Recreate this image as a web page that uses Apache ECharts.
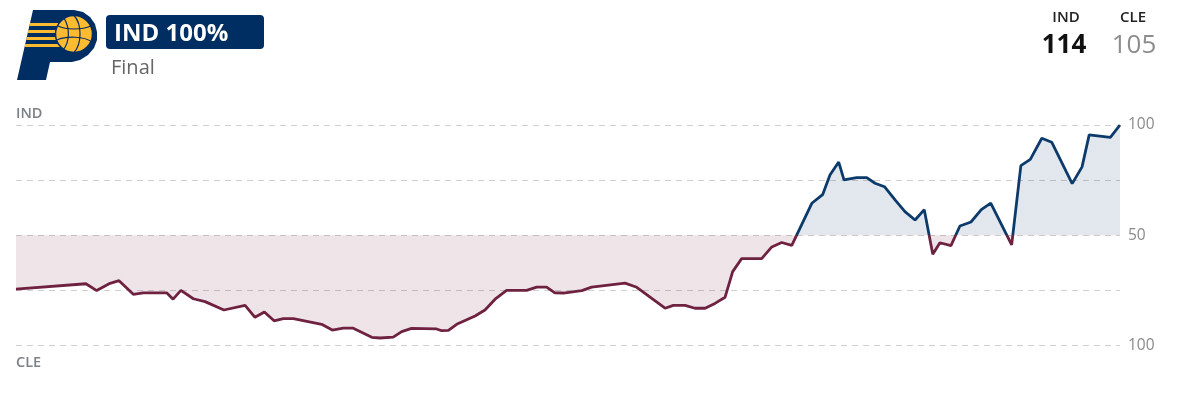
<!DOCTYPE html>
<html>
<head>
<meta charset="utf-8">
<script src="https://cdn.jsdelivr.net/npm/echarts@6/dist/echarts.min.js"></script>
<style>
  html, body { margin: 0; padding: 0; background: #fff; }
  #chart { width: 1178px; height: 401px; }
</style>
</head>
<body>
<div id="chart"></div>
<script>
// Game clock (minutes elapsed, 48-minute game)
const minutes = [0,3.04,3.51,4.09,4.48,5.10,5.53,6.55,6.83,7.17,7.71,8.22,9.04,9.96,10.39,10.80,11.22,11.62,12.06,13.29,13.75,14.23,14.64,15.47,15.83,16.40,16.77,17.20,18.29,18.51,18.80,19.16,19.96,20.39,20.83,21.33,22.20,22.64,23.07,23.43,23.80,24.60,25.03,26.48,26.99,28.22,28.58,29.09,29.52,29.96,30.39,30.83,31.16,31.55,32.42,32.86,33.29,33.73,34.60,35.07,35.39,35.77,36.00,36.55,36.99,37.35,37.76,38.22,38.65,39.09,39.49,39.86,40.17,40.65,41.04,41.52,41.97,42.38,43.29,43.69,44.10,44.60,45.03,45.92,46.35,46.66,47.58,48];
// IND win probability (%)
const indWinProb = [25.6,28.0,24.9,28.2,29.4,23.2,23.9,23.9,21.0,25.0,21.2,19.9,16.1,18.2,12.8,15.2,11.2,12.2,12.2,9.6,7.0,7.9,7.9,3.7,3.4,3.8,6.3,7.8,7.5,6.7,6.9,9.6,13.4,16.1,21.0,25.0,25.0,26.5,26.5,23.9,23.8,24.9,26.5,28.3,26.4,16.9,18.2,18.2,16.9,16.9,19.1,21.9,33.5,39.4,39.4,44.7,46.7,45.4,64.5,68.4,77.3,83.2,75.1,76.1,76.1,73.6,72.0,66.0,60.7,56.9,61.6,41.4,46.6,45.3,54.2,56.0,61.6,64.6,45.6,81.6,84.4,94.0,92.2,73.4,81.0,95.5,94.4,100];
const yTickLabels = {0: '100', 50: '50', 100: '100'};
const homeTeam = 'IND', awayTeam = 'CLE';
const homeScore = '114', awayScore = '105';
const headline = 'IND 100%';
const status = 'Final';

const NAVY = '#002d62', GOLD = '#fdbb30';
const RED = '#6f2140', BLUE = '#0b3a6b';
const FONT = '"Open Sans", sans-serif';

const seriesData = minutes.map((m, i) => [m, indWinProb[i]]);

const chart = echarts.init(document.getElementById('chart'), null, {renderer: 'canvas'});

const stripes = [23, 30, 37, 44].map(y => ({
  type: 'polygon',
  shape: { points: [[33 - (y - 10) * 16 / 70, y], [70, y], [70, y + 3], [33 - (y + 3 - 10) * 16 / 70, y + 3]] },
  style: { fill: GOLD },
  z: 101
}));

const seams = [
  { x1: 74, y1: 15.5, cpx1: 82, cpy1: 24, cpx2: 82, cpy2: 44, x2: 74, y2: 52.5 },
  { x1: 58, y1: 26, cpx1: 66, cpy1: 30, cpx2: 82, cpy2: 30, x2: 91, y2: 26 },
  { x1: 57, y1: 40, cpx1: 66, cpy1: 36, cpx2: 84, cpy2: 36, x2: 92, y2: 42 },
  { x1: 64, y1: 18, cpx1: 70, cpy1: 28, cpx2: 70, cpy2: 42, x2: 63, y2: 50 }
].map(s => ({ type: 'bezierCurve', shape: s, style: { fill: null, stroke: NAVY, lineWidth: 1.2 }, z: 103 }));

chart.setOption({
  backgroundColor: '#fff',
  animation: false,
  grid: { left: 16, right: 58, top: 125, height: 220.5 },
  xAxis: { type: 'value', min: 0, max: 48, show: false },
  yAxis: {
    type: 'value', min: 0, max: 100, interval: 25, position: 'right',
    axisLine: { show: false }, axisTick: { show: false },
    splitLine: { show: true, lineStyle: { color: '#cfcfcf', type: [6, 5], width: 1 } },
    axisLabel: {
      margin: 8, color: '#8a8a8a', fontSize: 15.5, fontFamily: FONT,
      formatter: v => yTickLabels[v] || ''
    }
  },
  visualMap: {
    type: 'piecewise', show: false, dimension: 1, seriesIndex: 0,
    pieces: [{ gte: 0, lt: 50, color: RED }, { gte: 50, lte: 100, color: BLUE }],
    outOfRange: { color: BLUE }
  },
  series: [{
    type: 'line',
    data: seriesData,
    symbol: 'none',
    lineStyle: { width: 2.8 },
    areaStyle: { origin: 50, opacity: 0.12 },
    silent: true
  }],
  graphic: [
    // logo
    { type: 'polygon', shape: { points: [[33,10],[74,10],[83,12],[90,17],[95,24],[97,32],[97,40],[94,48],[88,55],[80,60],[72,62],[50,62],[46,80],[17,80]] }, style: { fill: NAVY }, z: 100 },
    ...stripes,
    { type: 'circle', shape: { cx: 74, cy: 34, r: 18.5 }, style: { fill: GOLD, stroke: NAVY, lineWidth: 1.5 }, z: 102 },
    ...seams,
    // badge
    { type: 'rect', shape: { x: 106, y: 15, width: 158, height: 34, r: 4 }, style: { fill: NAVY }, z: 100 },
    { type: 'text', x: 114, y: 34, style: { text: headline, fill: '#fff', font: 'bold 24px ' + FONT, verticalAlign: 'middle' }, z: 101 },
    { type: 'text', x: 111, y: 68.5, style: { text: status, fill: '#666', font: '20px ' + FONT, verticalAlign: 'middle' }, z: 101 },
    // scoreboard
    { type: 'text', x: 1066, y: 17.4, style: { text: homeTeam, fill: '#222', font: '600 15px ' + FONT, align: 'center', verticalAlign: 'middle' } },
    { type: 'text', x: 1133, y: 17.4, style: { text: awayTeam, fill: '#222', font: '600 15px ' + FONT, align: 'center', verticalAlign: 'middle' } },
    { type: 'text', x: 1064, y: 46, style: { text: homeScore, fill: '#111', font: 'bold 26px ' + FONT, align: 'center', verticalAlign: 'middle' } },
    { type: 'text', x: 1134, y: 46, style: { text: awayScore, fill: '#8d8d8d', font: '26px ' + FONT, align: 'center', verticalAlign: 'middle' } },
    // side team labels
    { type: 'text', x: 16, y: 113.4, style: { text: homeTeam, fill: '#7d8086', font: '600 14.5px ' + FONT, verticalAlign: 'middle' } },
    { type: 'text', x: 16, y: 362.6, style: { text: awayTeam, fill: '#7d8086', font: '600 14.5px ' + FONT, verticalAlign: 'middle' } }
  ]
});
</script>
</body>
</html>
